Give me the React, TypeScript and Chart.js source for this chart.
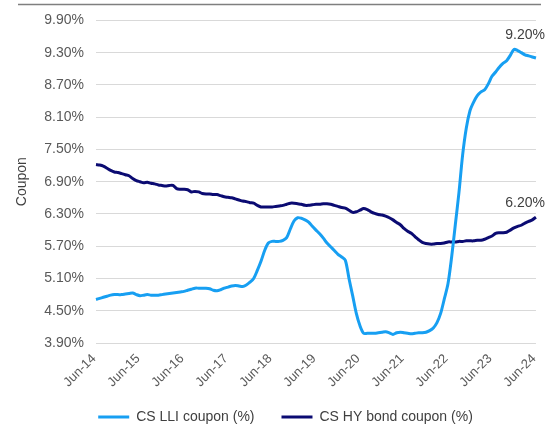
import { useEffect, useRef } from 'react';
import { Chart, registerables } from 'chart.js';

Chart.register(...registerables);

const monthNames = ['Jun', 'Jul', 'Aug', 'Sep', 'Oct', 'Nov', 'Dec', 'Jan', 'Feb', 'Mar', 'Apr', 'May'];
const months: string[] = [];
for (let i = 0; i <= 120; i++) {
  const yy = 14 + Math.floor((i + 5) / 12);
  months.push(monthNames[i % 12] + '-' + yy);
}

const xTickLabels = ['Jun-14', 'Jun-15', 'Jun-16', 'Jun-17', 'Jun-18', 'Jun-19', 'Jun-20', 'Jun-21', 'Jun-22', 'Jun-23', 'Jun-24'];

const lliCoupon = [
  4.71, 4.73, 4.75, 4.77, 4.79, 4.80, 4.80, 4.80, 4.81, 4.82, 4.83, 4.80,
  4.78, 4.79, 4.80, 4.79, 4.79, 4.79, 4.80, 4.81, 4.82, 4.83, 4.84, 4.85,
  4.86, 4.88, 4.90, 4.92, 4.92, 4.92, 4.92, 4.91, 4.88, 4.87, 4.89, 4.92,
  4.94, 4.96, 4.97, 4.96, 4.95, 4.98, 5.03, 5.10, 5.25, 5.42, 5.62, 5.76,
  5.79, 5.79, 5.79, 5.81, 5.86, 6.02, 6.17, 6.23, 6.22, 6.19, 6.15, 6.07,
  6.00, 5.93, 5.85, 5.76, 5.69, 5.62, 5.55, 5.50, 5.44, 5.10, 4.78, 4.45,
  4.22, 4.08, 4.08, 4.08, 4.08, 4.09, 4.10, 4.11, 4.09, 4.06, 4.09, 4.10,
  4.09, 4.08, 4.07, 4.08, 4.09, 4.09, 4.10, 4.13, 4.18, 4.28, 4.45, 4.72,
  5.00, 5.50, 6.10, 6.70, 7.40, 7.90, 8.22, 8.38, 8.50, 8.57, 8.61, 8.72,
  8.86, 8.94, 9.03, 9.10, 9.15, 9.25, 9.36, 9.34, 9.30, 9.26, 9.24, 9.22,
  9.20,
];

const hyCoupon = [
  7.22, 7.21, 7.19, 7.15, 7.11, 7.08, 7.07, 7.05, 7.03, 7.01, 6.96, 6.92,
  6.90, 6.88, 6.89, 6.87, 6.86, 6.84, 6.83, 6.82, 6.83, 6.83, 6.77, 6.76,
  6.76, 6.75, 6.71, 6.72, 6.71, 6.68, 6.67, 6.67, 6.66, 6.66, 6.64, 6.62,
  6.61, 6.60, 6.58, 6.56, 6.54, 6.53, 6.51, 6.50, 6.46, 6.43, 6.43, 6.43,
  6.43, 6.44, 6.45, 6.46, 6.48, 6.50, 6.50, 6.49, 6.48, 6.46, 6.46, 6.47,
  6.48, 6.48, 6.49, 6.49, 6.48, 6.46, 6.44, 6.42, 6.41, 6.37, 6.33, 6.34,
  6.37, 6.40, 6.38, 6.34, 6.31, 6.29, 6.28, 6.26, 6.23, 6.19, 6.14, 6.10,
  6.03, 5.98, 5.94, 5.88, 5.82, 5.77, 5.75, 5.74, 5.74, 5.75, 5.75, 5.76,
  5.78, 5.78, 5.78, 5.79, 5.79, 5.80, 5.80, 5.80, 5.81, 5.81, 5.83, 5.86,
  5.89, 5.94, 5.95, 5.95, 5.96, 6.00, 6.04, 6.07, 6.09, 6.13, 6.16, 6.19,
  6.24,
];

const seriesNames = ['CS LLI coupon (%)', 'CS HY bond coupon (%)'];
const seriesColors = ['#179ff2', '#0b0b72'];
const endLabels = ['9.20%', '6.20%'];
const endLabelOffsets = [-23, -14];
const yMin = 3.9;
const yMax = 9.9;
const yStep = 0.6;
const yTitle = 'Coupon';

const FONT = "'Liberation Sans', Arial, sans-serif";
const TEXT = '#595959';

const topRule = {
  id: 'topRule',
  afterDraw(chart: any) {
    const ctx = chart.ctx;
    ctx.save();
    ctx.strokeStyle = '#7f7f7f';
    ctx.lineWidth = 1.5;
    ctx.beginPath();
    ctx.moveTo(18, 4.5);
    ctx.lineTo(541, 4.5);
    ctx.stroke();
    ctx.restore();
  },
};

const endLabelPlugin = {
  id: 'endLabelPlugin',
  afterDatasetsDraw(chart: any) {
    const ctx = chart.ctx;
    ctx.save();
    ctx.font = '14px ' + FONT;
    ctx.fillStyle = '#404040';
    ctx.textAlign = 'right';
    ctx.textBaseline = 'middle';
    chart.data.datasets.forEach((ds: any, i: number) => {
      const meta = chart.getDatasetMeta(i);
      const pt = meta.data[meta.data.length - 1];
      if (!pt) return;
      ctx.fillText(endLabels[i], pt.x + 9, pt.y + endLabelOffsets[i]);
    });
    ctx.restore();
  },
};

export default function App() {
  const ref = useRef<HTMLCanvasElement>(null);
  useEffect(() => {
    if (!ref.current) return;
    const chart = new Chart(ref.current, {
      type: 'line',
      data: {
        labels: months,
        datasets: [
          {
            label: seriesNames[0],
            data: lliCoupon,
            borderColor: seriesColors[0],
            backgroundColor: seriesColors[0],
            borderWidth: 3,
            pointRadius: 0,
            tension: 0.3,
          },
          {
            label: seriesNames[1],
            data: hyCoupon,
            borderColor: seriesColors[1],
            backgroundColor: seriesColors[1],
            borderWidth: 3,
            pointRadius: 0,
            tension: 0.3,
          },
        ],
      },
      options: {
        animation: false,
        responsive: true,
        maintainAspectRatio: false,
        layout: { padding: { top: 18, left: 28, right: 4, bottom: 0 } },
        plugins: {
          tooltip: { enabled: false },
          legend: {
            position: 'bottom',
            labels: {
              usePointStyle: true,
              pointStyle: 'line',
              pointStyleWidth: 31,
              padding: 27,
              color: '#404040',
              font: { family: FONT, size: 14 },
            },
          },
        },
        scales: {
          x: {
            grid: { display: false },
            border: { display: false },
            afterFit: (s: any) => {
              s.height = 40;
              s._computeLabelArea = () => undefined;
            },
            ticks: {
              autoSkip: false,
              maxRotation: 45,
              minRotation: 45,
              padding: 0,
              labelOffset: -2,
              color: TEXT,
              font: { family: FONT, size: 13 },
              callback: (_v: any, idx: number) => (xTickLabels.includes(months[idx]) ? months[idx] : null),
            },
          },
          y: {
            min: yMin,
            max: yMax,
            afterFit: (s: any) => {
              s.width = 68;
            },
            grid: { color: '#d9d9d9', drawTicks: false },
            border: { display: false },
            ticks: {
              stepSize: yStep,
              padding: 12,
              color: TEXT,
              font: { family: FONT, size: 14 },
              callback: (v: any) => Number(v).toFixed(2) + '%',
            },
            title: {
              display: true,
              text: yTitle,
              color: '#404040',
              font: { family: FONT, size: 14 },
              padding: { top: -14.4, bottom: 0 },
            },
          },
        },
      },
      plugins: [topRule, endLabelPlugin],
    });
    return () => chart.destroy();
  }, []);
  return (
    <div style={{ position: 'fixed', left: 0, top: 0, width: 547, height: 434, background: '#fff' }}>
      <canvas ref={ref} />
    </div>
  );
}
